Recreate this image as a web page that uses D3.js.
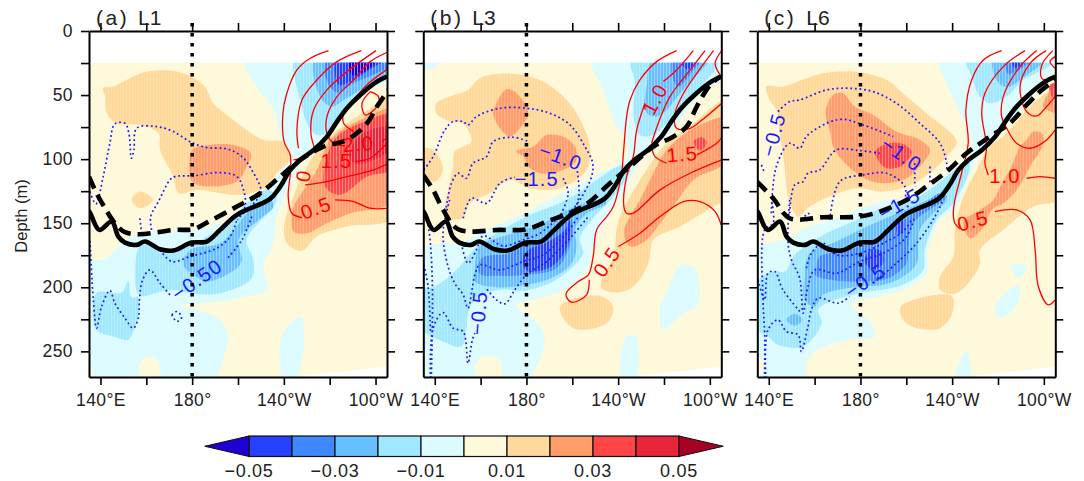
<!DOCTYPE html>
<html><head><meta charset="utf-8">
<script src="https://cdn.jsdelivr.net/npm/d3@7/dist/d3.min.js"></script>
<style>html,body{margin:0;padding:0;background:#fff}svg{display:block}text{font-family:"Liberation Sans",Arial,sans-serif}</style>
</head><body><svg id="c" width="1084" height="481"></svg>
<script>
(function(){
// ---------- shared data ----------
const colorThresholds=[-0.05,-0.04,-0.03,-0.02,-0.01,0,0.01,0.02,0.03,0.04,0.05];
const colorLevels=["#1e00d2","#2540ff","#4088ff","#66bfff","#a0e8ff","#dbfbff","#fff9dc","#ffd99b","#ff9c6a","#ff4545","#e8253a","#a60022"];
const colorbarLabels=[-0.05,-0.03,-0.01,0.01,0.03,0.05];
const lonTicks=[140,160,180,200,220,240,260];
const lonLabelled=[140,180,220,260];
const depthTicks=[0,25,50,75,100,125,150,175,200,225,250];
const depthLabelled=[0,50,100,150,200,250];
const panelTitles=[["(a)","L1"],["(b)","L3"],["(c)","L6"]];
const baseField=[[130,24],[268,24],[268,261.5],[224,270],[130,272]];
const thermoSolid=[[133,138],[135.1,140.9],[139.5,155.2],[144.9,148.7],[147.8,160.4],[150.7,165.1],[155.8,166.9],[159.4,164.3],[166,170.3],[171.8,171.3],[179.8,165.1],[186.4,164.3],[192.2,155.2],[199.5,143.5],[214,131],[218.4,121.4],[222.8,108.4],[227.1,100.6],[233,92.8],[238.8,82.4],[243.2,70.7],[247.5,60.3],[253.3,49.9],[260.6,39.5],[265,35.6]];
const dashedA=[[135,113.6],[138.3,126.6],[142,138.3],[146.3,150],[150.7,157],[157.2,158.6],[171.8,155.2],[180.5,154.7],[186.4,149.5],[199.5,137],[209.7,126.6],[218.4,113.6],[227.1,100.6],[237.3,90.2],[247.5,85],[256.3,72],[260.6,59],[265.7,46]];
const dashedB=[[134.9,112.3],[139.3,124],[143.5,139],[150.2,154.7],[168.4,155.2],[180,154.7],[188.8,148.7],[200.4,140.9],[207.7,133.1],[216.4,118.8],[225.2,105.8],[235.4,90.2],[244.1,82.4],[249.9,74.6],[254.3,59],[260.1,42.1],[264.5,35.6]];
const dashedC=[[134.9,117.5],[141.9,130.5],[149.1,146.1],[163.7,145.3],[179.7,144.8],[188.5,140.9],[200.1,131.8],[208.8,121.4],[217.6,109.7],[226.3,95.4],[236.5,82.4],[245.2,72],[252.5,57.7],[258.3,47.3],[264.9,38.2]];

// ---------- panel (a) ----------
const fillsA=[
{level:-1,pts:[[203.1,24],[268,24],[268,34.3],[253.3,51.2],[238.8,82.4],[228.6,100.6],[223.5,116.2],[218.4,137],[216.9,144.8],[215.5,165.6],[211.1,183.8],[212.6,202],[203.8,207.2],[192.2,211.1],[174.7,214.5],[184.9,218.9],[192.2,225.4],[195.8,238.4],[194.4,251.4],[188.5,273],[168.2,273],[164.5,256.6],[160.9,254],[157.2,259.2],[156.5,273],[138.3,273],[135.4,255.3],[132,235.8],[132,178.6],[141.2,178.6],[146.3,170.8],[151.4,163],[163,156.5],[180.5,155.2],[192.2,150],[199.5,142.2],[205.3,132],[212.6,121.4],[221.3,103.2],[222.8,92.8],[219.1,85],[215.5,61.6],[208.2,43.4]]},
{level:-1,pts:[[219.1,238.4],[227.1,222.8],[228.9,234.5],[224.9,273],[220.1,273]]},
{level:1,pts:[[141.2,44.7],[145.6,43.4],[154.3,35.6],[160.2,31.7],[173.3,31.7],[184.9,42.1],[189.3,56.4],[198,69.4],[211.1,85],[219.1,86.3],[222.8,95.4],[222.8,100.6],[216.9,111],[212.6,121.4],[200.9,127.9],[182,124],[174,126.6],[171.8,113.6],[166,92.8],[165.3,79.8],[157.2,73.3],[147,72],[142.7,64.2],[142,51.2]]},
{level:1,pts:[[153.6,131.8],[157.2,125.3],[163,131.8],[157.2,138.3]]},
{level:1,pts:[[268,47.3],[259.2,59],[247.5,72],[235.9,90.2],[228.6,111],[224.2,129.2],[220.1,152.6],[221.3,165.6],[227.9,171.6],[234.4,160.4],[247.5,152.6],[268,144.8]]},
{level:-2,pts:[[225,22],[225,38.2],[227.1,53.8],[230.8,74.6],[234.4,81.1],[238.8,79.8],[243.2,69.4],[250.4,53.8],[268,31.7],[268,22]]},
{level:-2,pts:[[156.8,168.2],[156.8,205.9],[170.3,202],[180.5,205.1],[192.2,204.6],[206,192.9],[206.7,178.6],[203.8,163],[215.5,137],[216.9,129.2],[212.6,124],[203.8,134.4],[198,144.8],[186.4,160.4],[173.3,170.8],[158.7,166.9]]},
{level:-2,pts:[[138.3,204.6],[149.2,204.1],[152.1,195],[153.6,207.7],[156.5,207.7],[156.5,222.8],[154.3,234.5],[152.1,241],[145.6,238.4],[138.3,233.2]]},
{level:2,pts:[[180,92.8],[187.8,88.9],[198,88.9],[205.6,95.4],[203.1,108.4],[199.5,117.5],[187.8,121.4],[180,117.5]]},
{level:2,pts:[[268,61.6],[253.3,69.4],[240.2,85],[234.4,108.4],[224.2,137],[223.5,143.5],[224.2,156.5],[230,157.8],[238.8,150],[249,142.2],[268,131.8]]},
{level:-3,pts:[[233.7,22],[233.7,40.8],[237.3,55.1],[241,59],[246.1,53.8],[253.3,46],[268,29.1],[268,22]]},
{level:-3,pts:[[176.2,182.5],[179.1,170.8],[192.2,165.6],[198.7,153.9],[205.3,139.6],[214,131.8],[215.5,137],[208.2,148.7],[200.2,163],[201.6,179.9],[195.1,190.3],[186.4,195.5],[180.5,190.3]]},
{level:3,pts:[[268,65.5],[253.3,72],[243.2,82.4],[238.8,98],[238,121.4],[244.6,127.9],[256.3,113.6],[268,107.1]]},
{level:-4,pts:[[238.8,22],[238.8,39.5],[243.2,48],[250.4,40.8],[268,25.2],[268,22]]},
{level:4,pts:[[268,75.9],[257.7,77.2],[250.4,87.6],[249,100.6],[253.3,103.7],[268,90.2]]},
{level:-5,pts:[[243.2,22],[243.9,42.1],[249,39.5],[258.4,29.1],[264.3,22]]},
{level:-6,pts:[[249,22],[249.7,34.3],[254,33],[260.6,22]]}
];
const redLinesA=[
[[239.5,15.3],[231.5,21.3],[225.7,30.4],[221.3,48.6],[219.6,64.2],[220.1,86.3],[222.8,96.7],[222.8,111],[221.9,129.2],[223.5,142.2],[227.9,145.6]],
[[242.4,131.8],[250.4,133.1],[257.7,138.3],[265.7,138.3]],
[[253.8,15.3],[243.2,23.9],[234.4,38.2],[227.9,53.8],[225.7,77.2],[226.4,91.5]],
[[260.2,15.3],[247.5,31.7],[238.8,46],[233,61.6],[231.8,79.8],[233.7,92.8]],
[[265.7,16.1],[257.7,23.9],[250.4,38.2],[243.2,51.2],[238.8,66.8],[238.8,79.8],[241.7,87.6],[246.8,89.7]],
[[262.8,86.3],[265.7,82.4]],
[[265.7,29.1],[257,40.8],[250.4,53.8],[246.1,64.2],[246.1,72],[250.4,78.5]],
[[257.7,47.3],[261.3,51.2],[260.6,59],[255.5,65.5],[254.1,56.4],[257.7,47.3]],
[[229.3,120.1],[238.8,117.5],[247.5,113.6],[259.2,108.4],[265.7,103.2]],
[[251.2,101.9],[257.7,99.3],[262.1,92.8],[265.7,86.3]],
[[224.2,100.6],[228.6,99.3]]
];
const blueLinesA=[
[[135.4,125.3],[138,134.9],[141.2,113.6],[144.1,87.6],[146.3,72.5],[150.7,72],[152.4,79.8],[153.5,99.3],[154.6,92.8],[155.8,75.9],[164.5,74.6],[171.8,78.5],[179.8,87.1],[186.4,91],[195.1,92],[201.7,98],[206,108.4],[210.1,125.3],[208.2,131.8],[200.9,144.8]],
[[162.3,155.2],[161.9,144.8],[165.3,133.1],[170.3,116.2],[172.5,113.6],[180.5,113],[192.2,110.5],[199.5,113.6],[202.4,124],[203.1,137],[199.8,147.4]],
[[157.2,146.1],[158,159.1]],
[[206,144.8],[201.7,163],[195.1,178]],
[[170.3,205.9],[166,196.8],[161.6,186.4],[158.4,194.2],[157,209.8],[156.5,224.1],[154.3,231.9],[150.7,224.1],[146.3,212.4],[144.1,202.5],[140.5,215],[138.3,231.9],[136.9,209.8],[135.4,163]],
[[166,170.8],[171.1,179.9],[179.1,176],[190.7,169.5],[196.6,160.4],[199.5,147.4]],
[[171.1,221.5],[173.3,218.9],[175.4,223.3],[173.3,226.7],[171.1,221.5]]
];
const labelsA=[
{t:"2.0",c:"red",lon:252.5,d:88,r:-5},{t:"1.5",c:"red",lon:243,d:101,r:0},{t:"0.5",c:"red",lon:234,d:138,r:-20},{t:"0",c:"red",lon:228.5,d:113,r:-80},
{t:"−0.50",c:"blue",lon:182,d:194,r:-35}
];

// ---------- panel (b) ----------
const fillsB=[
{level:-1,pts:[[209.1,24],[268,24],[268,33],[255.7,49.9],[241.2,82.4],[231,98],[223.7,121.4],[217.9,139],[210.6,160.4],[206.2,186.4],[197.5,200.7],[185.9,208.5],[175.7,214.5],[182.9,225.4],[188,238.4],[180,273],[170.6,273],[168.4,256.6],[162.6,253.5],[157.9,259.2],[157,273],[131,273],[131,173.4],[144.4,165.6],[150.9,165.6],[159.6,157.8],[168.4,150.5],[180,141.7],[188.8,133.1],[197.5,125.3],[212,111],[223.7,99.3],[223.7,85],[219.3,74.6],[213.5,46]]},
{level:-1,pts:[[131,22],[143.6,22],[139.3,29],[131,30]]},
{level:-1,pts:[[238.3,215],[241.2,204.6],[247,183],[253.6,185.1],[254.3,215],[248.5,220.2],[239.7,233.2]]},
{level:-1,pts:[[223.7,238.4],[227.4,237.9],[227.4,273],[221.5,273]]},
{level:1,pts:[[140.7,56.4],[146.5,51.2],[154.5,46],[159.6,36.9],[166.9,33.5],[178.6,34.3],[188.8,40.8],[196,51.2],[201.9,64.2],[207.7,90.2],[206.2,108.4],[194.6,122.7],[181.5,122.7],[172.7,116.2],[164,126.6],[155.3,134.4],[152.4,146.1],[145.1,144.8],[148,105.8],[148.7,94.1],[156,86.3],[152.4,72.5],[146.5,70.7],[140.7,64.2]]},
{level:1,pts:[[131,92.8],[139.3,92.8],[143.6,108.4],[140,117.5],[131,108.4]]},
{level:1,pts:[[268,53.8],[252.8,72],[239.7,90.2],[232.4,108.4],[225.2,129.2],[220.8,144.8],[219.3,155.2],[217.9,176],[212.8,194.2],[212.8,200.7],[219.3,204.1],[226.6,199.4],[233.2,181.2],[235.4,163],[247,152.6],[261.6,137],[268,130]]},
{level:1,pts:[[194.6,215],[212,206.7],[217.9,215],[215,228],[200.4,231.9]]},
{level:-2,pts:[[225.9,22],[227.4,40.8],[226.6,64.2],[229.5,81.1],[235.4,81.1],[241.2,72],[252.8,49.9],[263,27.8],[263.8,22]]},
{level:-2,pts:[[131,200.7],[139.3,199.9],[149.5,186.4],[158.2,168.2],[166.9,157.8],[181.5,143.5],[197.5,131.8],[223,104],[225.2,108.4],[217.9,129.2],[208.4,147.4],[203.3,161.7],[204.8,173.4],[201.1,182.5],[191.7,195.5],[180,202.5],[168.4,202],[158.2,208.5],[154.5,220.2],[153.8,233.2],[151.6,246.2],[143.6,242.3],[131,228]]},
{level:2,pts:[[171.3,45.5],[175.7,48.6],[180.8,64.2],[177.1,75.9],[172.7,82.4],[168.4,75.9],[165.5,64.2],[166.9,56.4]]},
{level:2,pts:[[175.4,94.1],[182.9,90.2],[188.8,81.1],[196,82.4],[201.1,90.2],[201.9,100.6],[196,108.4],[185.9,111],[180.8,105.8],[178.6,98]]},
{level:2,pts:[[268,68.1],[252.8,75.9],[241.2,92.8],[236.8,105.8],[229.5,131.8],[225.2,144.8],[222.5,156.5],[225.2,168.2],[232.4,163],[238.3,150],[245.5,133.1],[252.8,116.2],[268,100.6]]},
{level:-3,pts:[[235.4,22],[232.4,43.4],[231.7,61.6],[235.4,66.8],[239.7,64.2],[247,48.6],[255.7,31.7],[259.4,22]]},
{level:-3,pts:[[157.5,183.8],[159.6,168.2],[174.2,157.8],[187.3,150],[200.4,137.5],[213.5,131.8],[215,134.4],[205.5,143.5],[201.1,155.2],[201.9,168.2],[199.7,181.2],[191.7,192.1],[180,198.1],[166.9,199.9],[157.5,195.5]]},
{level:3,pts:[[252.8,86.3],[256.5,82.9],[258.7,87.6],[255.7,93.3]]},
{level:-4,pts:[[244.1,22],[244.1,38.2],[246.3,43.4],[252.8,30.4],[256.5,22]]},
{level:-4,pts:[[160.4,177.3],[172.8,173.4],[179.3,166.9],[188.8,160.4],[198.9,144.8],[200.1,155.2],[198.2,170.8],[193.1,185.1],[180,190.3],[168.4,191.1],[159.6,189.5]]},
{level:-5,pts:[[247.8,22],[249.2,29.1],[252.8,27.8],[254.3,22]]},
{level:-5,pts:[[178.3,177.3],[180.8,170.8],[188.8,165.1],[196.8,155.2],[199,147.4],[199,160.4],[196,174.7],[189.5,185.1],[180,186.9]]}
];
const redLinesB=[
[[245.5,15.3],[236.8,23.9],[229.5,38.2],[225.2,53.8],[223.7,66.8],[222.3,95.4],[221.5,111],[217.9,137],[215,144.8],[210.6,155.2],[209.1,176],[207,190.3],[202.6,195.5],[197.2,205.4],[199.7,211.6],[206.2,205.9],[207.4,194.2]],
[[252.8,15.3],[245.5,30.4],[239.7,39.5]],
[[231.7,56.4],[228.1,77.2],[226.6,98],[223.7,113.6],[222.5,137],[223.7,142.2],[226.6,142.2],[238.3,124],[251.4,111],[265.2,100.6]],
[[257.9,15.3],[251.4,30.4],[242.6,51.2],[237.5,72],[234.6,87.6]],
[[261.6,15.3],[254.3,33],[248.5,48.6],[244.8,64.2],[245.5,75.9],[251.4,75.9],[255.7,70.7],[265.2,56.4]],
[[265.2,15.3],[262.3,25.2],[264.5,34.3]],
[[234.6,90.2],[236.1,98],[241.2,103.2]],
[[254.3,96.7],[263,87.6],[265.5,82.4]],
[[220.1,168.2],[229.5,157.8],[238.3,144.8],[248.5,133.1],[255.7,133.1],[262.3,140.9],[264.9,151.3]]
];
const blueLinesB=[
[[135.2,108.4],[139.3,98],[144.4,77.2],[148,70.7],[152.4,70.7],[154.5,73.3],[158.2,66.8],[168.4,60.3],[180,60.3],[190.2,64.2],[199,73.3],[205.5,90.2],[208.9,103.2],[208.4,113.6],[203.3,131.8],[197.5,144.8]],
[[144.4,144.8],[147.3,118.8],[150.2,111],[153.8,114.9],[156.7,103.2],[162.6,98],[165.5,86.3],[174.2,82.9],[180.8,86.3]],
[[201.9,105.8],[202.9,129.2],[200.4,142.2]],
[[152.4,146.1],[156,130.5],[162.6,134.4],[168.4,118.8],[174.9,114.1]],
[[196,114.9],[198.2,126.6],[194.6,144.8]],
[[146.5,131.8],[143.6,157.8],[145.8,183.8],[148.7,196.8],[152.4,205.9],[154.5,216.3],[157.5,190.3],[159.6,182.5],[168.4,186.4],[178.6,179.9],[187.3,174.7],[197.5,157.8],[202.6,144.8]],
[[151.6,165.6],[154.5,181.2],[158.2,170.8],[161.1,159.9],[169.8,167.7],[178.6,163],[185.9,157.8],[196,142.2]],
[[162.8,201.5],[166.9,209.8],[170.6,212.9],[174.9,202],[180,190.3],[188.8,179.9],[199,161.7],[207,144.8]],
[[138.1,271],[139.3,231.9],[143.6,219.7],[148,231.9],[152.4,234.5],[154.5,259.2],[156.4,241],[157.5,235.8]],
[[138.5,271],[139,202],[138.1,165.6],[137,150]],
[[135.2,182.5],[137.1,199.4],[138.1,235.8]]
];
const labelsB=[
{t:"1.0",c:"red",lon:236,d:53,r:-62},{t:"1.5",c:"red",lon:248,d:96,r:-5},{t:"0.5",c:"red",lon:215,d:180,r:-55},
{t:"−1.0",c:"blue",lon:195,d:98,r:20},{t:"−1.5",c:"blue",lon:184.5,d:115,r:0},{t:"−0.5",c:"blue",lon:159,d:220,r:-85}
];

// ---------- panel (c) ----------
const fillsC=[
{level:-1,pts:[[214.7,24],[268,24],[264.9,30.4],[255.4,51.2],[242.3,74.6],[233.6,92.8],[227.8,111],[222,137],[214.7,147.4],[209.6,170.8],[208.8,189],[200.1,200.7],[188.4,207.2],[176.1,213.7],[184.8,228],[186.3,238.4],[175.3,241],[160.8,249.3],[156.4,259.2],[156.1,273],[136,273],[138.2,259.2],[131,246.2],[131,173.4],[140.4,165.6],[149.1,161.7],[155,154.7],[166.6,147.9],[178.3,140.1],[191.4,131.8],[203,129.2],[220.5,108.4],[227.8,98],[227.8,79.8],[222,59],[217.6,40.8]]},
{level:-1,pts:[[246,183.8],[248.9,181.7],[252.5,185.1],[248.9,192.9]]},
{level:-1,pts:[[238.7,215],[248.9,198.1],[248.9,212.4],[240.9,224.1]]},
{level:-1,pts:[[221.2,273],[226.3,248.8],[227.8,273]]},
{level:1,pts:[[139,43.4],[146.2,43.4],[156.4,36.9],[163.7,33],[176.8,31.7],[191.4,38.2],[200.1,51.2],[208.8,64.2],[222,86.3],[217.6,98],[210.3,111],[200.1,121.4],[189.9,125.3],[178.3,122.7],[166.6,129.2],[157.9,137],[152.8,144.8],[148.4,129.2],[146.9,105.8],[144.8,79.8],[143.3,61.6],[140.4,53.8]]},
{level:1,pts:[[268,43.4],[255.4,56.4],[243.8,79.8],[236.5,90.2],[230.7,108.4],[224.9,129.2],[221.2,155.2],[220.5,176],[214.7,191.6],[214.7,202],[222,204.6],[232.1,182.5],[232.1,170.8],[242.3,155.2],[255.4,137],[268,130]]},
{level:1,pts:[[197.6,215],[219.8,206.7],[219.8,221.5],[214.7,231.9],[203,231.1],[198.6,225.4]]},
{level:-2,pts:[[226.3,22],[228.5,35.6],[232.1,51.2],[236.5,56.4],[243.8,51.2],[251.1,38.2],[262.7,26.5],[263.4,22]]},
{level:-2,pts:[[131,202],[141.9,187.7],[147,187.7],[151.3,174.7],[157.9,165.6],[165.2,157.8],[178.3,147.4],[189.9,137.5],[203,131.8],[217.6,113.6],[226.3,100.6],[227.8,105.8],[220.5,134.4],[213.2,147.4],[208.1,170.8],[207.4,186.4],[198.6,198.1],[178.3,205.1],[165.2,212.4],[161.5,217.6],[163,228],[155,246.2],[144,244.9],[139.7,238.4],[131,228]]},
{level:2,pts:[[165.2,59],[168.1,49.9],[172.4,48.6],[177.5,59],[185.5,65.5],[195.7,78.5],[205.9,85],[210.3,92.8],[204.5,108.4],[198.6,116.2],[187,118.3],[178.3,111],[168.8,92.8],[166.6,77.2],[164.9,66.8]]},
{level:2,pts:[[268,40.8],[262,48.6],[259.8,59],[268,64.2]]},
{level:2,pts:[[252.5,85],[255.4,78.5],[259.1,79.8],[259.8,87.6],[254,105.8],[248.2,124],[242.3,134.4],[238,138.3],[232.1,156.5],[227.8,161.7],[224.9,148.7],[232.1,139.6],[238,131.8],[240.9,121.4],[245.2,108.4],[249.6,90.2]]},
{level:-3,pts:[[238,22],[239.4,38.2],[243.8,43.9],[252.5,34.3],[259.1,25.2],[259.5,22]]},
{level:-3,pts:[[155.7,190.3],[157.9,173.4],[169.5,164.3],[181.2,153.9],[192.8,144.8],[204.5,135.7],[216.1,127.9],[217.6,131.8],[212.5,140.9],[205.9,155.2],[204.5,181.2],[198.6,191.6],[189.9,198.1],[176.8,199.9],[163.7,205.9],[160.1,215],[155.7,209.8]]},
{level:-3,pts:[[147.7,225.4],[151.3,220.7],[154.7,225.4],[151.3,230.1]]},
{level:3,pts:[[186.3,94.1],[191.4,88.1],[198.6,88.1],[202.3,94.1],[198.6,104.5],[191.4,107.1],[187.7,100.6]]},
{level:3,pts:[[262.7,42.1],[268,40.8],[268,53.8],[263.4,51.2]]},
{level:-4,pts:[[243.8,22],[244.5,33.5],[251.1,27.8],[255.4,22]]},
{level:-4,pts:[[160.8,185.1],[162.2,176],[175.3,170.8],[185.5,163],[195.7,151.3],[205.9,138.3],[214.7,126.6],[217.6,129.2],[203,150],[200.8,170.8],[200.1,181.2],[192.1,192.9],[176.8,195.5],[166.6,194.2],[160.1,190.3]]},
{level:-5,pts:[[246,22],[247.4,29.1],[251.8,22]]},
{level:-5,pts:[[182,177.3],[184.8,170.3],[189.2,172.1],[189.9,181.2],[185.5,186.4],[182.6,182.5]]},
{level:-5,pts:[[195.7,152.6],[198.6,147.4],[198.6,156.5],[196.5,159.1]]}
];
const redLinesC=[
[[241.6,15.3],[233.6,22.6],[228.5,38.2],[226,61.6],[227,87.6],[224.1,111],[221.2,131.8],[220.5,142.2],[221.2,150],[223.4,154.4]],
[[251.8,15.3],[242.3,27.8],[234.3,48.6],[232.9,64.2],[235,90.2],[234.3,103.2],[235.8,112.3]],
[[256.9,15.3],[249.6,27.8],[242.3,51.2],[241.6,66.8],[243.8,75.9],[248.1,87.6],[254,91.5],[261.2,85],[264.9,77.2]],
[[261,15.3],[254,25.2],[249.6,43.4],[252.5,62.9],[256.9,66.3],[261.2,59],[264.9,51.2]],
[[263.9,15.3],[259.1,26.5],[259.1,36.9],[262.7,38.2]],
[[264.9,20],[262.7,23.9],[264.9,29]],
[[252.5,114.9],[258.3,113.6],[264.9,114.9]],
[[238.7,140.9],[248.1,139.6],[254,147.4],[256.2,170.8],[257.6,199.4],[262,213.7],[264.9,209.8]]
];
const blueLinesC=[
[[144,62.9],[149.1,55.1],[153.5,53.8],[165.2,46],[175.3,44.7],[185.5,47.3],[195.7,56.4],[205.9,72],[214.7,87.6],[217.6,103.2],[217.6,108.4]],
[[136.8,104.5],[138.2,111]],
[[141.1,142.2],[143.3,105.8],[149.1,87.6],[153.5,91.5],[156.4,82.4],[165.2,72],[172.4,68.9],[181.2,73.3],[194.3,82.4]],
[[203.7,103.2],[203.7,121.4]],
[[210.3,105.8],[210.3,118.8]],
[[149.1,142.2],[151.3,120.1],[155,117.5],[157.1,111],[162.2,108.4],[169.5,92.8],[179.7,93.3],[188.4,95.4]],
[[166.6,147.4],[171,117.5],[181.2,112.3],[191.4,111],[199.4,121.4],[199.4,131.8]],
[[155.7,144.8],[157.1,142.2],[159.3,147.4]],
[[149.1,131.8],[148.4,165.6],[149.9,178.6],[153.5,192.9],[155,220.2],[157.1,199.4],[160.1,186.4],[169.5,189],[179.7,179.9],[191.4,172.1],[200.1,160.4],[203.7,144.8]],
[[156.4,185.1],[158.6,173.4],[163.7,165.6],[169.5,174.7],[179.7,173.4],[191.4,164.3],[198.6,156.5],[202.3,147.4]],
[[138.7,271],[139.7,233.2],[144,225.4],[147.7,234.5],[152.8,237.1],[154.2,250.1],[157.1,230.6],[158.6,217.6],[161.5,208.5],[170.3,212.4],[175.3,207.2]],
[[185.5,196.8],[195.7,181.2],[204.5,165.6],[212.5,144.8],[216.1,131.8]],
[[135.3,194.2],[138.2,209.8],[139.7,189],[142.6,187.7],[146.2,202],[154.2,220.2]],
[[138.2,271],[138.2,235.8],[137.5,209.8],[138.2,155.2],[141.9,150],[141.1,131.8]]
];
const labelsC=[
{t:"1.0",c:"red",lon:243,d:113,r:0},{t:"0.5",c:"red",lon:229,d:148,r:-15},
{t:"−0.5",c:"blue",lon:142,d:81,r:-75},{t:"−1.0",c:"blue",lon:198,d:96,r:35},{t:"−1.5",c:"blue",lon:197,d:135,r:-30},{t:"−0.5",c:"blue",lon:182,d:195,r:-35}
];

const panels=[
{left:89,fills:fillsA,red:redLinesA,blue:blueLinesA,labels:labelsA,dashed:dashedA},
{left:423.3,fills:fillsB,red:redLinesB,blue:blueLinesB,labels:labelsB,dashed:dashedB},
{left:757.3,fills:fillsC,red:redLinesC,blue:blueLinesC,labels:labelsC,dashed:dashedC}
];

// ---------- drawing ----------
const svg=d3.select("#c");
const W=298,topY=31,H=346;
const y=d3.scaleLinear().domain([0,270]).range([topY,topY+H]);
const levelColor=l=>colorLevels[l+6];
const defs=svg.append("defs");
defs.append("pattern").attr("id","stip").attr("patternUnits","userSpaceOnUse").attr("width",3).attr("height",3)
  .append("rect").attr("width",1).attr("height",3).attr("fill","#fff").attr("opacity",.13);
const fmtLon=v=>v===180?"180°":v<180?v+"°E":(360-v)+"°W";
const curveClosed=d3.curveCatmullRomClosed.alpha(.5), curveOpen=d3.curveCatmullRom.alpha(.5);

panels.forEach((p,i)=>{
  const x=d3.scaleLinear().domain([135,265]).range([p.left,p.left+W]);
  const gen=d3.line().x(d=>x(d[0])).y(d=>y(d[1]));
  const g=svg.append("g");
  defs.append("clipPath").attr("id","fc"+i).append("rect").attr("x",p.left).attr("y",y(24.7)).attr("width",W).attr("height",topY+H-y(24.7));
  defs.append("clipPath").attr("id","pc"+i).append("rect").attr("x",p.left).attr("y",topY).attr("width",W).attr("height",H);
  const fg=g.append("g").attr("clip-path",`url(#fc${i})`);
  fg.append("path").attr("d",gen.curve(d3.curveLinearClosed)(baseField)).attr("fill",levelColor(0));
  gen.curve(curveClosed);
  fg.selectAll("path.f").data(p.fills).join("path").attr("class","f").attr("d",d=>gen(d.pts)).attr("fill",d=>levelColor(d.level));
  fg.selectAll("path.s").data(p.fills.filter(d=>Math.abs(d.level)>=1)).join("path").attr("class","s").attr("d",d=>gen(d.pts)).attr("fill","url(#stip)");

  const lg=g.append("g").attr("clip-path",`url(#pc${i})`).attr("fill","none");
  gen.curve(curveOpen);
  lg.selectAll("path.r").data(p.red).join("path").attr("class","r").attr("d",gen).attr("stroke","#f00").attr("stroke-width",1.3);
  lg.selectAll("path.b").data(p.blue).join("path").attr("class","b").attr("d",gen).attr("stroke","#1a1aff").attr("stroke-width",1.7).attr("stroke-dasharray","1.8 2.8");
  lg.append("path").attr("d",gen(thermoSolid)).attr("stroke","#000").attr("stroke-width",4.6).attr("stroke-linejoin","round");
  lg.append("path").attr("d",gen(p.dashed)).attr("stroke","#000").attr("stroke-width",4.6).attr("stroke-dasharray","13 7");

  g.selectAll("text.cl").data(p.labels).join("text").attr("class","cl")
    .attr("transform",d=>`translate(${x(d.lon)},${y(d.d)}) rotate(${d.r})`)
    .attr("text-anchor","middle").attr("dy","0.36em").attr("font-size",20).attr("letter-spacing",1.2).attr("fill",d=>d.c==="red"?"#f00":"#1a1aff").text(d=>d.t);

  // 180 degree dotted marker
  g.append("line").attr("x1",x(180)).attr("x2",x(180)).attr("y1",topY-8).attr("y2",topY+H)
    .attr("stroke","#000").attr("stroke-width",3.5).attr("stroke-dasharray","3.5 6.5");

  const style=a=>{a.select(".domain").attr("stroke","#000").attr("stroke-width",2);a.selectAll(".tick line").attr("stroke","#000").attr("stroke-width",1.6);};
  const axB=g.append("g").attr("transform",`translate(0,${topY+H})`).call(d3.axisBottom(x).tickValues(lonTicks).tickSize(8).tickSizeOuter(0).tickPadding(9).tickFormat(v=>lonLabelled.includes(v)?fmtLon(v):""));
  const axT=g.append("g").attr("transform",`translate(0,${topY})`).call(d3.axisTop(x).tickValues(lonTicks).tickSize(8).tickSizeOuter(0).tickFormat(""));
  const axL=g.append("g").attr("transform",`translate(${p.left},0)`).call(d3.axisLeft(y).tickValues(depthTicks).tickSize(8).tickSizeOuter(0).tickPadding(8).tickFormat(v=>i===0&&depthLabelled.includes(v)?v:""));
  const axR=g.append("g").attr("transform",`translate(${p.left+W},0)`).call(d3.axisRight(y).tickValues(depthTicks).tickSize(8).tickSizeOuter(0).tickFormat(""));
  [axB,axT,axL,axR].forEach(style);
  [axB,axL].forEach(a=>a.selectAll("text").attr("font-family","'Liberation Sans',Arial,sans-serif").attr("font-size",17.5).attr("letter-spacing",0.4).attr("fill","#222"));

  const tg=g.append("g").attr("font-size",21).attr("fill","#222");
  tg.append("text").attr("x",p.left+7).attr("y",25).attr("letter-spacing",2.5).text(panelTitles[i][0]);
  tg.append("text").attr("x",p.left+49).attr("y",25).text(panelTitles[i][1]);
});
svg.append("text").attr("transform","translate(27,216) rotate(-90)").attr("text-anchor","middle").attr("font-size",16.5).attr("fill","#222").text("Depth (m)");

// colorbar
const cb=d3.scaleLinear().domain([-0.05,0.05]).range([249,679]);
const cbY0=436,cbY1=456.5,cg=svg.append("g");
cg.selectAll("rect").data(d3.pairs(colorThresholds)).join("rect")
  .attr("x",d=>cb(d[0])).attr("width",d=>cb(d[1])-cb(d[0])).attr("y",cbY0).attr("height",cbY1-cbY0)
  .attr("fill",(d,k)=>colorLevels[k+1]).attr("stroke","#111").attr("stroke-width",1.2);
const tri=(a,b)=>`M${cb(a)},${cbY0}L${cb(b)},${(cbY0+cbY1)/2}L${cb(a)},${cbY1}Z`;
cg.append("path").attr("d",tri(-0.05,-0.0603)).attr("fill",colorLevels[0]).attr("stroke","#111");
cg.append("path").attr("d",tri(0.05,0.0603)).attr("fill",colorLevels[11]).attr("stroke","#111");
cg.selectAll("text").data(colorbarLabels).join("text").attr("x",d=>cb(d)).attr("y",477).attr("text-anchor","middle").attr("font-size",18).attr("letter-spacing",0.7).attr("fill","#222")
  .text(d=>d3.format(".2f")(d).replace("-","−"));
})();
</script></body></html>
